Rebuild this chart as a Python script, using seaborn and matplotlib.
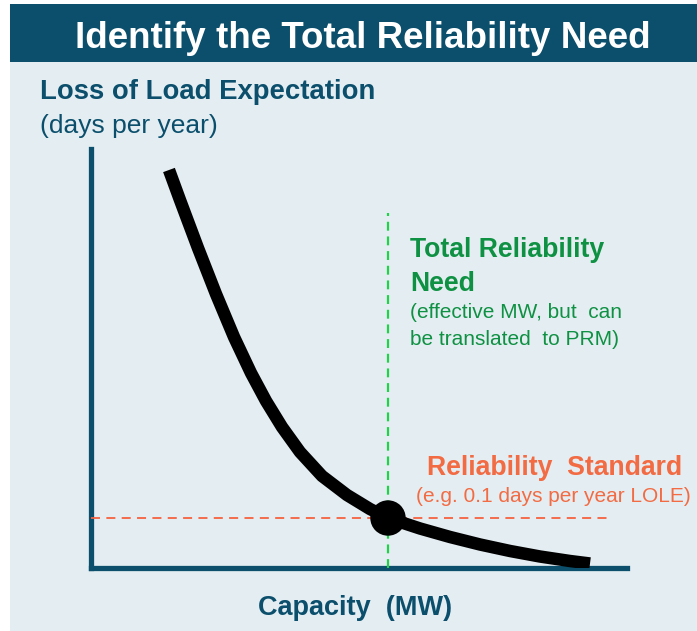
import matplotlib
matplotlib.use("Agg")
import matplotlib.pyplot as plt
import seaborn as sns
import pandas as pd
from matplotlib.patches import Rectangle

# curva LOLE x capacidade (unidades arbitrarias, eixo 0-10)
capacidade = [1.455, 1.660, 1.996, 2.332, 2.668, 2.985, 3.265, 3.563, 3.899, 4.310,
              4.776, 5.205, 5.541, 6.138, 6.698, 7.257, 7.817, 8.377, 8.937, 9.310]
lole = [9.499, 8.783, 7.637, 6.539, 5.513, 4.654, 3.986, 3.365, 2.768, 2.196,
        1.742, 1.408, 1.193, 0.943, 0.740, 0.561, 0.406, 0.274, 0.167, 0.107]

necessidade_x = 5.541     # Total Reliability Need
padrao_y = 1.193          # Reliability Standard
necessidade_topo = 8.47
padrao_fim = 9.70

df = pd.DataFrame({"capacidade": capacidade, "lole": lole})

sns.set_theme(style="white")
plt.rcParams['font.family'] = ['Liberation Sans', 'DejaVu Sans']

W, H = 697, 631
fig = plt.figure(figsize=(W / 100, H / 100), dpi=100)
fig.patch.set_facecolor("white")

azul = "#0b4f6c"
fundo = "#e4eef2"
verde_txt = "#0f9143"
verde_linha = "#22d14a"
laranja_txt = "#f26b43"
laranja_linha = "#f5623f"

def fx(px):
    return px / W

def fy(py):
    return 1 - py / H

fig.patches.append(Rectangle((fx(10), 0), 1 - fx(10), fy(62), transform=fig.transFigure,
                             facecolor=fundo, edgecolor="none", zorder=-10))
fig.patches.append(Rectangle((fx(10), fy(62)), 1 - fx(10), fy(4) - fy(62),
                             transform=fig.transFigure, facecolor=azul,
                             edgecolor="none", zorder=-10))

ax = fig.add_axes([fx(91), fy(568), fx(627) - fx(91), fy(149) - fy(568)])
ax.set_zorder(1)
ax.set_facecolor("none")
ax.set_xlim(0, 10)
ax.set_ylim(0, 10)
ax.set_xticks([])
ax.set_yticks([])
for lado in ["top", "right"]:
    ax.spines[lado].set_visible(False)
for lado in ["left", "bottom"]:
    ax.spines[lado].set_color(azul)
    ax.spines[lado].set_linewidth(3.8)
    ax.spines[lado].set_zorder(1)

ax.plot([0, padrao_fim], [padrao_y, padrao_y], color=laranja_linha, lw=1.3,
        dashes=(5, 3.5), zorder=2, clip_on=False)
ax.plot([necessidade_x, necessidade_x], [0, necessidade_topo], color=verde_linha,
        lw=1.6, dashes=(4, 2.6), zorder=2, clip_on=False)

sns.lineplot(data=df, x="capacidade", y="lole", sort=False, color="black",
             linewidth=9, ax=ax, zorder=3, solid_capstyle="butt",
             solid_joinstyle="round")
sns.scatterplot(x=[necessidade_x], y=[padrao_y], color="black", s=650,
                edgecolor="none", ax=ax, zorder=4)
ax.set_xlabel("")
ax.set_ylabel("")

fig.text(fx(363), fy(48), "Identify the Total Reliability Need", color="white",
         fontsize=26.5, fontweight="bold", ha="center", va="baseline")

fig.text(fx(40), fy(99), "Loss of Load Expectation", color=azul, fontsize=19.8,
         fontweight="bold", va="baseline")
fig.text(fx(40), fy(133), "(days per year)", color=azul, fontsize=19,
         va="baseline")

fig.text(fx(410), fy(257), "Total Reliability", color=verde_txt, fontsize=19.2,
         fontweight="bold", va="baseline")
fig.text(fx(410), fy(291), "Need", color=verde_txt, fontsize=19.2,
         fontweight="bold", va="baseline")
fig.text(fx(410), fy(318), "(effective MW, but  can", color=verde_txt,
         fontsize=15, va="baseline")
fig.text(fx(410), fy(345), "be translated  to PRM)", color=verde_txt,
         fontsize=15, va="baseline")

fig.text(fx(555), fy(475), "Reliability  Standard", color=laranja_txt,
         fontsize=19.2, fontweight="bold", ha="center", va="baseline")
fig.text(fx(553), fy(502), "(e.g. 0.1 days per year LOLE)", color=laranja_txt,
         fontsize=15, ha="center", va="baseline")

fig.text(fx(355), fy(615), "Capacity  (MW)", color=azul, fontsize=19.5,
         fontweight="bold", ha="center", va="baseline")

fig.savefig("out.png", dpi=100, facecolor=fig.get_facecolor())
plt.close(fig)
